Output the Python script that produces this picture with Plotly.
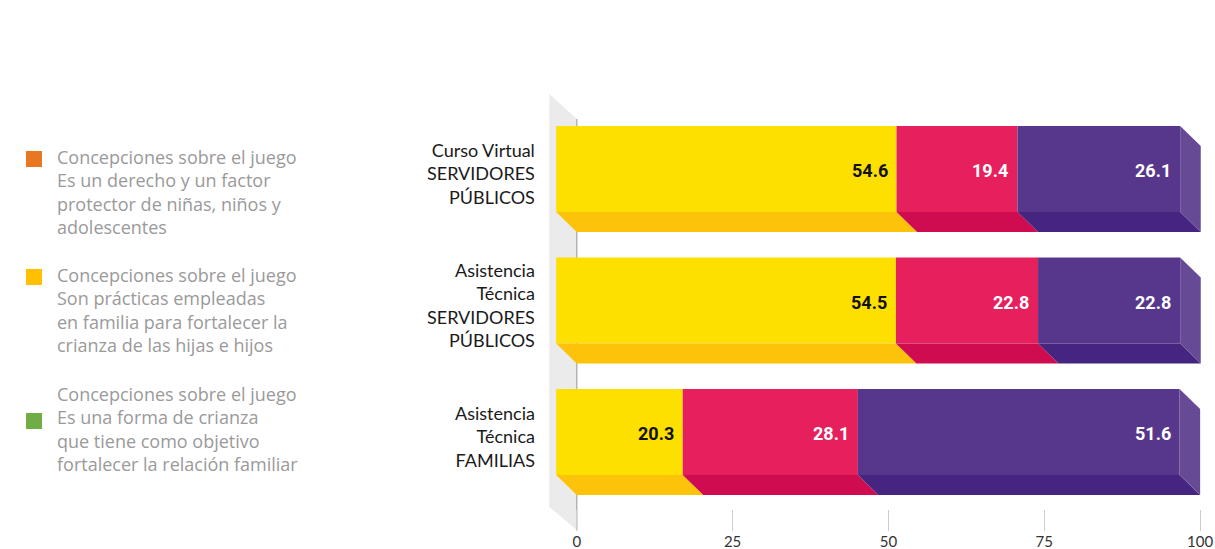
import plotly.graph_objects as go

# ---------------- data ----------------
categories = [
    "Curso Virtual<br>SERVIDORES<br>PÚBLICOS",
    "Asistencia<br>Técnica<br>SERVIDORES<br>PÚBLICOS",
    "Asistencia<br>Técnica<br>FAMILIAS",
]
yellow_vals = [54.6, 54.5, 20.3]
red_vals = [19.4, 22.8, 28.1]
purple_vals = [26.1, 22.8, 51.6]

legend_labels = [
    "Concepciones sobre el juego<br>Es un derecho y un factor<br>protector de niñas, niños y<br>adolescentes",
    "Concepciones sobre el juego<br>Son prácticas empleadas<br>en familia para fortalecer la<br>crianza de las hijas e hijos",
    "Concepciones sobre el juego<br>Es una forma de crianza<br>que tiene como objetivo<br>fortalecer la relación familiar",
]
legend_colors = ["#E87722", "#FFC000", "#70AD47"]
x_ticks = [0, 25, 50, 75, 100]

# ---------------- layout constants ----------------
W, H = 1215, 549
ML, MR, MT, MB = 549, 13, 94, 18
X_RANGE = [-4.45, 100.3]
Y_RANGE = [2.753, -0.570]
D = 3.3      # depth offset in x units
DY = 0.152   # depth offset in y units
BW = 0.654   # front face height in y units


def px_x(px):
    return (px - ML) / (W - ML - MR)


def px_y(py):
    return 1 - (py - MT) / (H - MT - MB)


series = [
    (yellow_vals, "#FDE000", "#FCC30A", "#111111"),
    (red_vals, "#E61F5D", "#CF0C50", "#FFFFFF"),
    (purple_vals, "#57378B", "#45257F", "#FFFFFF"),
]
side_color = "#674A96"

idx = list(range(len(categories)))
fig = go.Figure()
annotations = []

cum = [0.0] * len(idx)
for vals, front_c, bottom_c, txt_c in series:
    starts = cum[:]
    ends = [s + v for s, v in zip(starts, vals)]
    # front faces
    fig.add_trace(go.Bar(
        x=vals, base=[s - D for s in starts], y=idx, orientation="h",
        width=BW, marker=dict(color=front_c, line=dict(width=0)),
        hoverinfo="skip", showlegend=False,
    ))
    # bottom faces
    bx, by = [], []
    for i, s, e in zip(idx, starts, ends):
        yb = i + BW / 2
        bx += [s - D, e - D, e, s, s - D, None]
        by += [yb, yb, yb + DY, yb + DY, yb, None]
    fig.add_trace(go.Scatter(
        x=bx, y=by, mode="lines", fill="toself", fillcolor=bottom_c,
        line=dict(width=0, color=bottom_c), hoverinfo="skip", showlegend=False,
    ))
    # value labels
    for i, e, v in zip(idx, ends, vals):
        annotations.append(dict(
            x=e - D, y=i, xref="x", yref="y", text=f"<b>{v:.1f}</b>",
            showarrow=False, xanchor="right", yanchor="middle",
            xshift=-7, yshift=-2,
            font=dict(family="Roboto", size=18, color=txt_c),
        ))
    cum = ends

# right side faces of the last segment
sx, sy = [], []
for i, e in zip(idx, cum):
    sx += [e - D, e, e, e - D, e - D, None]
    sy += [i - BW / 2, i - BW / 2 + DY, i + BW / 2 + DY, i + BW / 2, i - BW / 2, None]
fig.add_trace(go.Scatter(
    x=sx, y=sy, mode="lines", fill="toself", fillcolor=side_color,
    line=dict(width=0, color=side_color), hoverinfo="skip", showlegend=False,
))

# category labels
for i, cat in zip(idx, categories):
    annotations.append(dict(
        x=px_x(537), y=i, xref="paper", yref="y", text=cat,
        showarrow=False, xanchor="right", yanchor="middle", align="right",
        yshift=-5, font=dict(family="Lato", size=18, color="#1a1a1a"),
    ))

# legend (text + squares)
legend_centers = [192, 309.5, 428.5]
square_tops = [151, 269, 413]
shapes = []
for lab, col, yc, st in zip(legend_labels, legend_colors, legend_centers, square_tops):
    annotations.append(dict(
        x=px_x(55), y=px_y(yc), xref="paper", yref="paper", text=lab,
        showarrow=False, xanchor="left", yanchor="middle", align="left",
        font=dict(family="Open Sans", size=18, color="#9a9a9a"),
    ))
    shapes.append(dict(
        type="rect", xref="paper", yref="paper",
        x0=px_x(26), x1=px_x(42), y0=px_y(st), y1=px_y(st + 16),
        fillcolor=col, line=dict(width=0), layer="above",
    ))

# back wall
wall_left = -4.41
shapes.append(dict(
    type="path", xref="x", yref="y", layer="below",
    path=f"M {wall_left},-0.570 L 0,-0.380 L 0,2.745 L {wall_left},2.570 Z",
    fillcolor="#ebebeb", line=dict(width=0),
))
shapes.append(dict(
    type="line", xref="x", yref="y", layer="below",
    x0=0, x1=0, y0=-0.380, y1=2.745, line=dict(color="#b4b4b4", width=1.5),
))

fig.update_layout(
    template="none",
    width=W, height=H,
    margin=dict(l=ML, r=MR, t=MT, b=MB, autoexpand=False),
    paper_bgcolor="white", plot_bgcolor="white",
    barmode="overlay",
    showlegend=False,
    hovermode=False,
    annotations=annotations,
    shapes=shapes,
    xaxis=dict(
        range=X_RANGE, tickvals=x_ticks, ticktext=[str(t) for t in x_ticks],
        ticks="inside", ticklen=21, tickcolor="#cccccc", tickwidth=1,
        showgrid=False, zeroline=False, showline=False, automargin=False,
        tickfont=dict(family="Lato", size=15, color="#333333"),
        fixedrange=True,
    ),
    yaxis=dict(
        range=Y_RANGE, showticklabels=False, showgrid=False, automargin=False,
        zeroline=False, showline=False, ticks="", fixedrange=True,
    ),
)

fig.write_html("out.html", config={"displayModeBar": False, "staticPlot": True})

# remove the default page margin so the figure starts at the window corner
with open("out.html", "r", encoding="utf-8") as f:
    html = f.read()
html = html.replace("<head>", "<head><style>html,body{margin:0;padding:0;overflow:hidden;}</style>", 1)
with open("out.html", "w", encoding="utf-8") as f:
    f.write(html)
